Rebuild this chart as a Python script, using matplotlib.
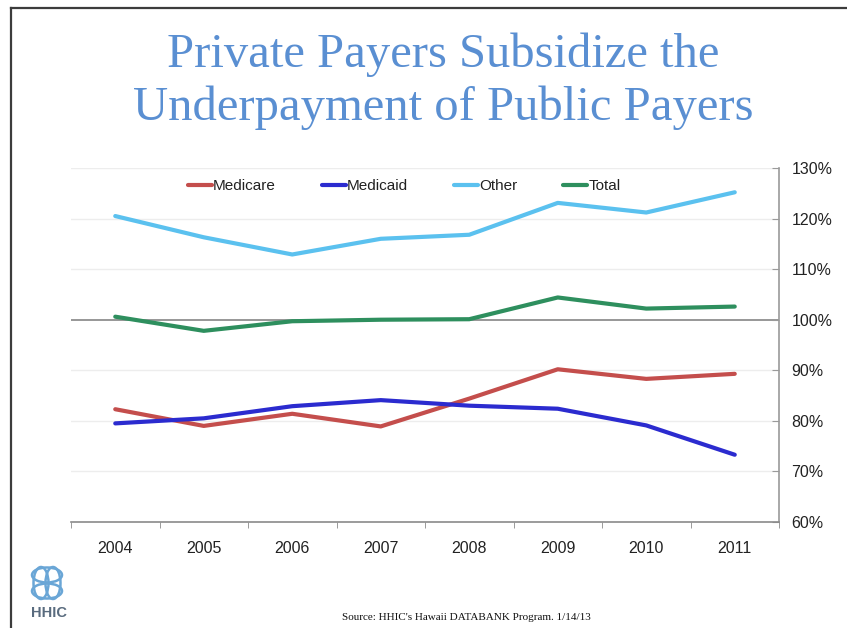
import matplotlib
matplotlib.use("Agg")
import matplotlib.pyplot as plt
from matplotlib.lines import Line2D
from matplotlib.patches import Ellipse

# ---- data -------------------------------------------------------------
years = ["2004", "2005", "2006", "2007", "2008", "2009", "2010", "2011"]
medicare = [82.3, 79.0, 81.4, 78.9, 84.4, 90.2, 88.3, 89.3]
medicaid = [79.5, 80.5, 82.9, 84.1, 83.0, 82.4, 79.1, 73.3]
other = [120.5, 116.3, 112.9, 116.0, 116.8, 123.1, 121.2, 125.2]
total = [100.6, 97.8, 99.7, 100.0, 100.1, 104.4, 102.2, 102.6]
y_ticks = [60, 70, 80, 90, 100, 110, 120, 130]

series = [
    ("Medicare", medicare, "#c44e4c"),
    ("Medicaid", medicaid, "#2b2bcf"),
    ("Other", other, "#5bc1ef"),
    ("Total", total, "#2e8f5e"),
]

W, H = 847, 628
fig = plt.figure(figsize=(W / 100, H / 100), dpi=100)
fig.patch.set_facecolor("white")

def fx(px):
    return px / W

def fy(py):
    return 1 - py / H

# slide frame (top and left edges)
fig.add_artist(Line2D([fx(11), 1], [fy(8), fy(8)], color="#3c3c3c", lw=1.6))
fig.add_artist(Line2D([fx(11), fx(11)], [fy(8), 0], color="#3c3c3c", lw=1.6))

# title
title_color = "#5a8fd2"
fig.text(fx(443), fy(67), "Private Payers Subsidize the", ha="center", va="baseline",
         fontsize=35, color=title_color, family="Liberation Serif")
fig.text(fx(443), fy(120), "Underpayment of Public Payers", ha="center", va="baseline",
         fontsize=35, color=title_color, family="Liberation Serif")

# chart area
ax_l, ax_r, ax_t, ax_b = 71, 779, 168, 522
ax = fig.add_axes([fx(ax_l), fy(ax_b), fx(ax_r - ax_l), (ax_b - ax_t) / H])
x = list(range(len(years)))

for val in y_ticks:
    if val in (60, 100):
        continue
    ax.axhline(val, color="#ededed", lw=1.0, zorder=0)
ax.axhline(100, color="#8f8f8f", lw=1.3, zorder=1)

for name, vals, col in series:
    ax.plot(x, vals, color=col, lw=3.0, label=name, solid_capstyle="round", zorder=3)

ax.set_xlim(-0.5, len(years) - 0.5)
ax.set_ylim(60, 130)

for side in ("left", "top"):
    ax.spines[side].set_visible(False)
ax.spines["right"].set_color("#9a9a9a")
ax.spines["bottom"].set_color("#8a8a8a")
ax.spines["right"].set_linewidth(1.2)
ax.spines["bottom"].set_linewidth(1.2)

ax.yaxis.tick_right()
ax.set_yticks(y_ticks)
ax.set_yticklabels([f"{v}%" for v in y_ticks])
ax.tick_params(axis="y", direction="in", length=5, color="#9a9a9a", pad=9,
               labelsize=11.5, labelcolor="#222222")

ax.set_xticks(x)
ax.set_xticklabels(years)
ax.set_xticks([i - 0.5 for i in range(len(years) + 1)], minor=True)
ax.tick_params(axis="x", which="major", length=0, pad=14, labelsize=11.5,
               labelcolor="#222222")
ax.tick_params(axis="x", which="minor", direction="out", length=4, color="#8a8a8a")

for lbl in ax.get_xticklabels() + ax.get_yticklabels():
    lbl.set_family("Liberation Sans")

leg = ax.legend(loc="center", bbox_to_anchor=((404 - ax_l) / (ax_r - ax_l),
                                               (ax_b - 186) / (ax_b - ax_t)),
                ncol=4, frameon=False, handlelength=1.6, handletextpad=0.05,
                columnspacing=3.0, prop={"family": "Liberation Sans", "size": 11})
for t in leg.get_texts():
    t.set_color("#222222")

# logo: interlaced loops
logo_c = "#6aa6d6"
cx, cy = 47, 583
ar = W / H
for dx in (-6, 6):
    fig.add_artist(Ellipse((fx(cx + dx), fy(cy)), width=fx(15), height=32 / H,
                           transform=fig.transFigure, fill=False, ec=logo_c, lw=1.8))
for dy in (-8, 8):
    fig.add_artist(Ellipse((fx(cx), fy(cy + dy)), width=fx(30), height=15 / H,
                           transform=fig.transFigure, fill=False, ec=logo_c, lw=1.8))
fig.text(fx(49), fy(613), "HHIC", ha="center", va="center", fontsize=10.5,
         color="#596b7e", weight="bold", family="Liberation Sans")

# source note
fig.text(fx(466), fy(617), "Source: HHIC's Hawaii DATABANK Program. 1/14/13",
         ha="center", va="center", fontsize=8, color="#111111",
         family="Liberation Serif")

fig.savefig("out.png", dpi=100, facecolor="white")
